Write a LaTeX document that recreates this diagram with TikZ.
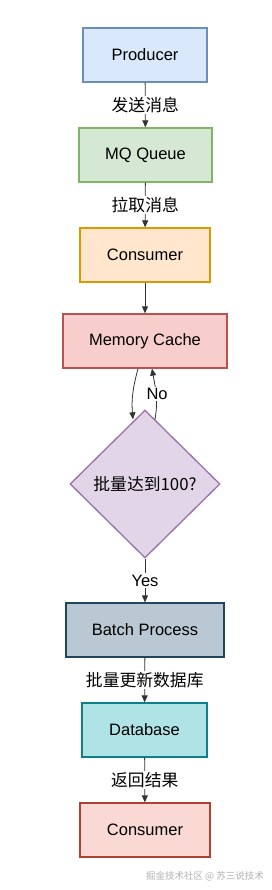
\documentclass[tikz,border=0pt]{standalone}
\usepackage{fontspec}
\setmainfont{Liberation Sans}
\newfontfamily\cjk{Noto Sans CJK SC}
\usetikzlibrary{shapes.geometric,arrows.meta,calc}
\definecolor{pfill}{HTML}{DAE8FC}\definecolor{pdraw}{HTML}{6C8EBF}
\definecolor{qfill}{HTML}{D5E8D4}\definecolor{qdraw}{HTML}{82B366}
\definecolor{cfill}{HTML}{FFE6CC}\definecolor{cdraw}{HTML}{D79B00}
\definecolor{mfill}{HTML}{F8CECC}\definecolor{mdraw}{HTML}{B85450}
\definecolor{dfill}{HTML}{E1D5E7}\definecolor{ddraw}{HTML}{9673A6}
\definecolor{bfill}{HTML}{BAC8D3}\definecolor{bdraw}{HTML}{23445D}
\definecolor{tfill}{HTML}{B0E3E6}\definecolor{tdraw}{HTML}{0E8088}
\definecolor{rfill}{HTML}{FAD9D5}\definecolor{rdraw}{HTML}{AE4132}
\definecolor{linec}{HTML}{333333}
\tikzset{
  box/.style={draw, line width=1.3pt, minimum height=54pt, inner sep=0pt, font=\fontsize{16.5}{19}\selectfont},
  arr/.style={draw=linec, line width=0.8pt, -{Triangle[length=7pt,width=6pt]}},
  lbl/.style={fill=white, inner sep=1.5pt, font=\cjk\fontsize{16.8}{19}\selectfont, text=black},
  lbllat/.style={fill=white, inner sep=1.5pt, font=\fontsize{16.5}{19}\selectfont, text=black},
}
\begin{document}
\begin{tikzpicture}[x=1pt,y=1pt]
\useasboundingbox (0,0) rectangle (272,-890);
\fill[white] (0,0) rectangle (272,-890);
\node[box, fill=pfill, draw=pdraw, minimum width=124pt] (prod) at (145,-55) {Producer};
\node[box, fill=qfill, draw=qdraw, minimum width=133pt] (mq) at (145.5,-155) {MQ Queue};
\node[box, fill=cfill, draw=cdraw, minimum width=130pt] (cons) at (145,-255) {Consumer};
\node[box, fill=mfill, draw=mdraw, minimum width=164pt] (mc) at (145,-341) {Memory Cache};
\node[diamond, draw=ddraw, fill=dfill, line width=1.3pt, minimum width=150pt, minimum height=148pt, inner sep=0pt, font=\cjk\fontsize{16.8}{19}\selectfont] (dec) at (145,-484) {批量达到100?};
\node[box, fill=bfill, draw=bdraw, minimum width=158pt] (batch) at (145,-630) {Batch Process};
\node[box, fill=tfill, draw=tdraw, minimum width=125pt] (db) at (144.5,-730) {Database};
\node[box, fill=rfill, draw=rdraw, minimum width=130pt] (cons2) at (145,-830) {Consumer};

\draw[arr] (prod) -- node[lbl] {发送消息} (mq);
\draw[arr] (mq) -- node[lbl] {拉取消息} (cons);
\draw[arr] (cons) -- (mc);
\draw[arr] ([xshift=-7pt]mc.south) to[out=-105,in=95] ([xshift=-12pt,yshift=-10pt]dec.north);
\draw[arr] ([xshift=10pt,yshift=-10pt]dec.north) to[out=80,in=-80] node[lbllat, pos=0.5, xshift=1pt] {No} ([xshift=7pt]mc.south);
\draw[arr] (dec) -- node[lbllat] {Yes} (batch);
\draw[arr] (batch) -- node[lbl] {批量更新数据库} (db);
\draw[arr] (db) -- node[lbl] {返回结果} (cons2);
\node[anchor=east, text=black!30, inner sep=0pt, font=\cjk\fontsize{9.5}{11}\selectfont] (wm) at (264,-876) {掘金技术社区 @ 苏三说技术};
\end{tikzpicture}
\end{document}
